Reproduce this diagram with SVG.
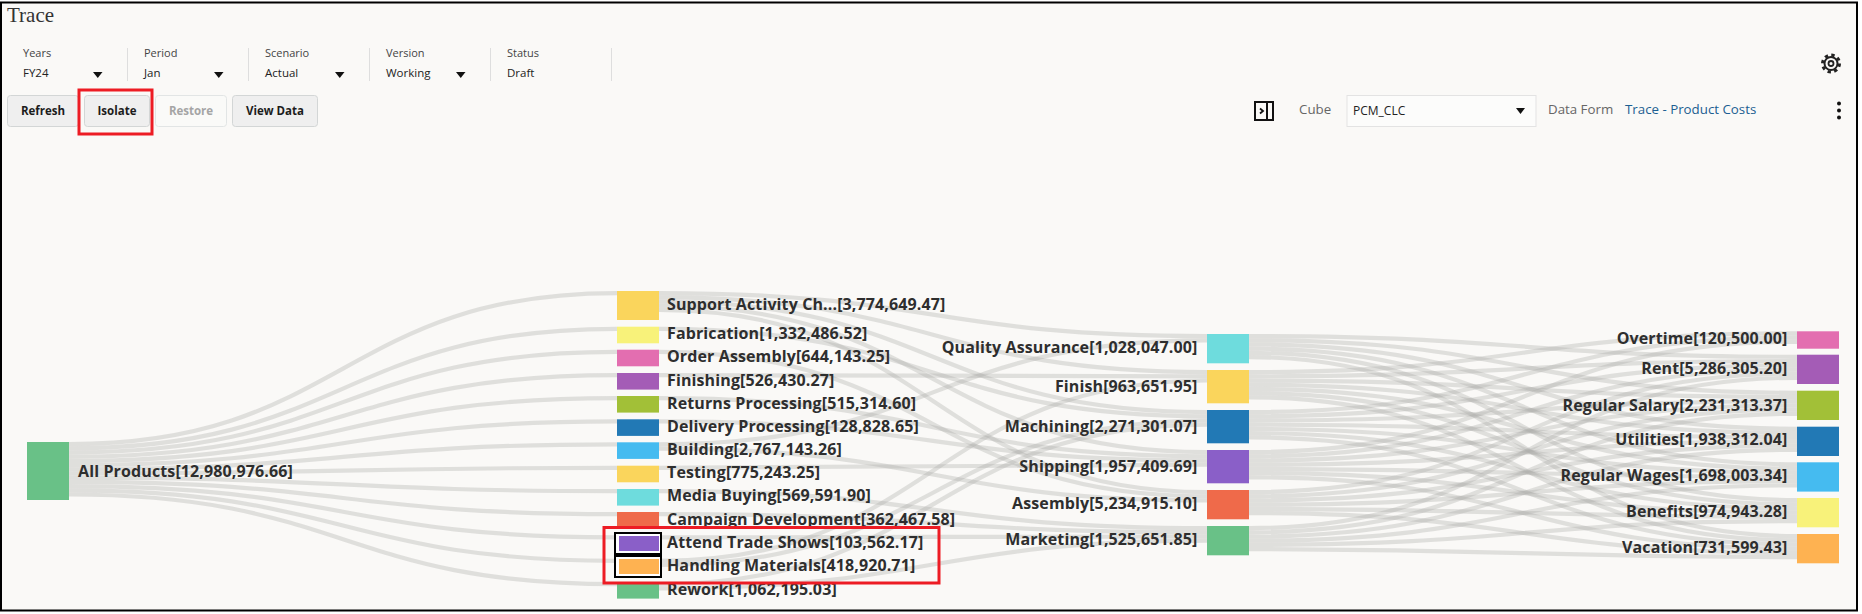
<svg xmlns="http://www.w3.org/2000/svg" width="1862" height="614" viewBox="0 0 1862 614">
<style>
text{font-family:"Open Sans","Noto Sans","Liberation Sans",sans-serif}
.l{fill:none;stroke:#aaaaa8;stroke-width:4.2;opacity:.33}
.n{font-size:16px;font-weight:700;fill:#2e2e2e;letter-spacing:.12px}
.e{text-anchor:end}
.f{font-size:11px;fill:#444}
.v{font-size:11.5px;fill:#222}
.b{font-size:11.5px;font-weight:700;fill:#1c1c1c;text-anchor:middle}
.btn{fill:#efefef;stroke:#d3d6d6;rx:3px}
.sep{stroke:#dedede;stroke-width:1}
.tri{fill:#111}
.red{fill:none;stroke:#ed1c24;stroke-width:3}
.sel{fill:#fff;stroke:#000;stroke-width:2}
.m{font-size:13.300px;fill:#666}
</style>
<rect width="1862" height="614" fill="#fff"/>
<rect x="1" y="2.500" width="1856" height="608" fill="#faf9f7" stroke="#000" stroke-width="2"/>
<g id="header">
<text x="7" y="22" font-size="21" fill="#333" style="font-family:'Liberation Serif',serif">Trace</text>
<text class="f" x="23" y="57">Years</text><text class="v" x="23" y="76.500">FY24</text><path class="tri" d="M93 72h9.500l-4.750 6z"/>
<text class="f" x="144" y="57">Period</text><text class="v" x="144" y="76.500">Jan</text><path class="tri" d="M214 72h9.500l-4.750 6z"/>
<text class="f" x="265" y="57">Scenario</text><text class="v" x="265" y="76.500">Actual</text><path class="tri" d="M335 72h9.500l-4.750 6z"/>
<text class="f" x="386" y="57">Version</text><text class="v" x="386" y="76.500">Working</text><path class="tri" d="M456 72h9.500l-4.750 6z"/>
<text class="f" x="507" y="57">Status</text><text class="v" x="507" y="76.500">Draft</text>
<path class="sep" d="M127.500 48V81M248.500 48V81M369.500 48V81M490.500 48V81M611.500 48V81"/>
<g id="gear" fill="none" stroke="#222"><circle cx="1831" cy="63.500" r="6.500" stroke-width="2"/><circle cx="1831" cy="63.500" r="8.500" stroke-width="3" stroke-dasharray="3.340 3.340"/><circle cx="1831" cy="63.500" r="2.500" stroke-width="1.800"/></g>
</g>
<g id="toolbar">
<rect class="btn" x="7.500" y="95.500" width="71" height="31"/><text class="b" x="43" y="114.500">Refresh</text>
<rect class="btn" x="84.500" y="95.500" width="65" height="31"/><text class="b" x="117" y="114.500">Isolate</text>
<rect class="btn" style="fill:#fafaf8;stroke:#e2e5e5" x="155.500" y="95.500" width="71" height="31"/><text class="b" style="fill:#a5a5a5" x="191" y="114.500">Restore</text>
<rect class="btn" x="232.500" y="95.500" width="85" height="31"/><text class="b" x="275" y="114.500">View Data</text>
<rect x="1255" y="102" width="18" height="18" fill="none" stroke="#111" stroke-width="2"/><path d="M1267 102V120" stroke="#111" stroke-width="2"/><path d="M1260 108.500l3 2.500-3 2.500" fill="none" stroke="#111" stroke-width="1.800"/>
<text class="m" x="1299" y="114">Cube</text>
<rect x="1347" y="95.500" width="189" height="31" fill="#fcfcfb" stroke="#e3e3e3"/>
<text class="v" x="1353" y="114.500" style="font-size:12px">PCM_CLC</text><path class="tri" d="M1516 108h9l-4.500 6z"/>
<text class="m" x="1548" y="114">Data Form</text>
<text class="m" x="1625" y="114" style="fill:#1c5f92">Trace - Product Costs</text>
<g id="menu" fill="#111"><circle cx="1839" cy="103.500" r="2"/><circle cx="1839" cy="110.500" r="2"/><circle cx="1839" cy="117.500" r="2"/></g>
</g>
<g id="connectors">
<path class="l" d="M69 444.100C343 444.100 343 293.100 617 293.100"/>
<path class="l" d="M69 448.300C343 448.300 343 328.800 617 328.800"/>
<path class="l" d="M69 452.500C343 452.500 343 351.800 617 351.800"/>
<path class="l" d="M69 456.700C343 456.700 343 375.100 617 375.100"/>
<path class="l" d="M69 460.900C343 460.900 343 398.100 617 398.100"/>
<path class="l" d="M69 465.100C343 465.100 343 421.400 617 421.400"/>
<path class="l" d="M69 469.300C343 469.300 343 444.400 617 444.400"/>
<path class="l" d="M69 473.500C343 473.500 343 467.800 617 467.800"/>
<path class="l" d="M69 477.700C343 477.700 343 491.100 617 491.100"/>
<path class="l" d="M69 481.900C343 481.900 343 514.100 617 514.100"/>
<path class="l" d="M69 486.100C343 486.100 343 537.400 617 537.400"/>
<path class="l" d="M69 490.300C343 490.300 343 560.800 617 560.800"/>
<path class="l" d="M69 494.500C343 494.500 343 584.100 617 584.100"/>
<path class="l" d="M659 293.100C933 293.100 933 336.100 1207 336.100"/>
<path class="l" d="M659 297.300C933 297.300 933 372.100 1207 372.100"/>
<path class="l" d="M659 301.500C933 301.500 933 412.100 1207 412.100"/>
<path class="l" d="M659 305.700C933 305.700 933 452.100 1207 452.100"/>
<path class="l" d="M659 309.900C933 309.900 933 492.100 1207 492.100"/>
<path class="l" d="M659 328.800C933 328.800 933 416.300 1207 416.300"/>
<path class="l" d="M659 351.800C933 351.800 933 496.300 1207 496.300"/>
<path class="l" d="M659 375.100C933 375.100 933 376.300 1207 376.300"/>
<path class="l" d="M659 398.100C933 398.100 933 456.300 1207 456.300"/>
<path class="l" d="M659 421.400C933 421.400 933 460.500 1207 460.500"/>
<path class="l" d="M659 444.400C933 444.400 933 340.300 1207 340.300"/>
<path class="l" d="M659 448.600C933 448.600 933 500.500 1207 500.500"/>
<path class="l" d="M659 467.800C933 467.800 933 464.700 1207 464.700"/>
<path class="l" d="M659 491.100C933 491.100 933 528.100 1207 528.100"/>
<path class="l" d="M659 514.100C933 514.100 933 532.300 1207 532.300"/>
<path class="l" d="M659 537.400C933 537.400 933 536.500 1207 536.500"/>
<path class="l" d="M659 560.800C933 560.800 933 380.500 1207 380.500"/>
<path class="l" d="M659 565C933 565 933 420.500 1207 420.500"/>
<path class="l" d="M659 584.100C933 584.100 933 424.700 1207 424.700"/>
<path class="l" d="M659 588.300C933 588.300 933 540.700 1207 540.700"/>
<path class="l" d="M1249 336.100C1523 336.100 1523 356.800 1797 356.800"/>
<path class="l" d="M1249 340.300C1523 340.300 1523 392.800 1797 392.800"/>
<path class="l" d="M1249 344.500C1523 344.500 1523 428.800 1797 428.800"/>
<path class="l" d="M1249 348.700C1523 348.700 1523 464.400 1797 464.400"/>
<path class="l" d="M1249 352.900C1523 352.900 1523 500.100 1797 500.100"/>
<path class="l" d="M1249 357.100C1523 357.100 1523 536.100 1797 536.100"/>
<path class="l" d="M1249 372.100C1523 372.100 1523 333.400 1797 333.400"/>
<path class="l" d="M1249 376.300C1523 376.300 1523 361 1797 361"/>
<path class="l" d="M1249 380.500C1523 380.500 1523 397 1797 397"/>
<path class="l" d="M1249 384.700C1523 384.700 1523 433 1797 433"/>
<path class="l" d="M1249 388.900C1523 388.900 1523 468.600 1797 468.600"/>
<path class="l" d="M1249 393.100C1523 393.100 1523 504.300 1797 504.300"/>
<path class="l" d="M1249 397.300C1523 397.300 1523 540.300 1797 540.300"/>
<path class="l" d="M1249 412.100C1523 412.100 1523 337.600 1797 337.600"/>
<path class="l" d="M1249 416.300C1523 416.300 1523 365.200 1797 365.200"/>
<path class="l" d="M1249 420.500C1523 420.500 1523 401.200 1797 401.200"/>
<path class="l" d="M1249 424.700C1523 424.700 1523 437.200 1797 437.200"/>
<path class="l" d="M1249 428.900C1523 428.900 1523 472.800 1797 472.800"/>
<path class="l" d="M1249 433.100C1523 433.100 1523 508.500 1797 508.500"/>
<path class="l" d="M1249 437.300C1523 437.300 1523 544.500 1797 544.500"/>
<path class="l" d="M1249 452.100C1523 452.100 1523 341.800 1797 341.800"/>
<path class="l" d="M1249 456.300C1523 456.300 1523 369.400 1797 369.400"/>
<path class="l" d="M1249 460.500C1523 460.500 1523 405.400 1797 405.400"/>
<path class="l" d="M1249 464.700C1523 464.700 1523 441.400 1797 441.400"/>
<path class="l" d="M1249 468.900C1523 468.900 1523 477 1797 477"/>
<path class="l" d="M1249 473.100C1523 473.100 1523 512.700 1797 512.700"/>
<path class="l" d="M1249 477.300C1523 477.300 1523 548.700 1797 548.700"/>
<path class="l" d="M1249 492.100C1523 492.100 1523 373.600 1797 373.600"/>
<path class="l" d="M1249 496.300C1523 496.300 1523 409.600 1797 409.600"/>
<path class="l" d="M1249 500.500C1523 500.500 1523 445.600 1797 445.600"/>
<path class="l" d="M1249 504.700C1523 504.700 1523 481.200 1797 481.200"/>
<path class="l" d="M1249 508.900C1523 508.900 1523 516.900 1797 516.900"/>
<path class="l" d="M1249 513.100C1523 513.100 1523 552.900 1797 552.900"/>
<path class="l" d="M1249 528.100C1523 528.100 1523 377.800 1797 377.800"/>
<path class="l" d="M1249 532.300C1523 532.300 1523 413.800 1797 413.800"/>
<path class="l" d="M1249 536.500C1523 536.500 1523 449.800 1797 449.800"/>
<path class="l" d="M1249 540.700C1523 540.700 1523 485.400 1797 485.400"/>
<path class="l" d="M1249 544.900C1523 544.900 1523 521.100 1797 521.100"/>
<path class="l" d="M1249 549.100C1523 549.100 1523 557.100 1797 557.100"/>
</g>
<g id="n-all-products"><rect x="27" y="442" width="42" height="58" fill="#69c187"/><text class="n" x="78" y="476.500">All Products[12,980,976.66]</text></g>
<g id="n-support"><rect x="617" y="291" width="42" height="29" fill="#fad55c"/><text class="n" x="667" y="310">Support Activity Ch...[3,774,649.47]</text></g>
<g id="n-fabrication"><rect x="617" y="326.700" width="42" height="16.600" fill="#f8f27a"/><text class="n" x="667" y="339">Fabrication[1,332,486.52]</text></g>
<g id="n-order-assembly"><rect x="617" y="349.700" width="42" height="16.600" fill="#e36eb0"/><text class="n" x="667" y="362.300">Order Assembly[644,143.25]</text></g>
<g id="n-finishing"><rect x="617" y="373" width="42" height="16.600" fill="#a45cb6"/><text class="n" x="667" y="386">Finishing[526,430.27]</text></g>
<g id="n-returns"><rect x="617" y="396" width="42" height="16.600" fill="#a2c037"/><text class="n" x="667" y="409.300">Returns Processing[515,314.60]</text></g>
<g id="n-delivery"><rect x="617" y="419.300" width="42" height="16.600" fill="#2279b5"/><text class="n" x="667" y="432">Delivery Processing[128,828.65]</text></g>
<g id="n-building"><rect x="617" y="442.300" width="42" height="16.600" fill="#45bbf0"/><text class="n" x="667" y="455">Building[2,767,143.26]</text></g>
<g id="n-testing"><rect x="617" y="465.700" width="42" height="16.600" fill="#fad55c"/><text class="n" x="667" y="478.300">Testing[775,243.25]</text></g>
<g id="n-media"><rect x="617" y="489" width="42" height="16.600" fill="#6edcdd"/><text class="n" x="667" y="501.300">Media Buying[569,591.90]</text></g>
<g id="n-campaign"><rect x="617" y="512" width="42" height="16.600" fill="#ef6a4a"/><text class="n" x="667" y="525">Campaign Development[362,467.58]</text></g>
<g id="n-attend"><rect class="sel" x="615" y="533" width="46" height="21"/><rect x="619" y="536" width="40" height="15" fill="#8a5fc8"/><text class="n" x="667" y="548.300">Attend Trade Shows[103,562.17]</text></g>
<g id="n-rework"><rect x="617" y="582" width="42" height="16.600" fill="#69c187"/><text class="n" x="667" y="594.500">Rework[1,062,195.03]</text></g>
<g id="n-handling"><rect class="sel" x="615" y="556" width="46" height="21" /><rect x="619" y="559" width="40" height="15" fill="#feb251"/><text class="n" x="667" y="571.200">Handling Materials[418,920.71]</text></g>
<g id="n-qa"><rect x="1207" y="334" width="42" height="29.300" fill="#6edcdd"/><text class="n e" x="1197.500" y="353.300">Quality Assurance[1,028,047.00]</text></g>
<g id="n-finish"><rect x="1207" y="370" width="42" height="33.300" fill="#fad55c"/><text class="n e" x="1197.500" y="391.700">Finish[963,651.95]</text></g>
<g id="n-machining"><rect x="1207" y="410" width="42" height="33.300" fill="#2279b5"/><text class="n e" x="1197.500" y="431.700">Machining[2,271,301.07]</text></g>
<g id="n-shipping"><rect x="1207" y="450" width="42" height="33.300" fill="#8a5fc8"/><text class="n e" x="1197.500" y="471.700">Shipping[1,957,409.69]</text></g>
<g id="n-assembly"><rect x="1207" y="490" width="42" height="29.300" fill="#ef6a4a"/><text class="n e" x="1197.500" y="509.300">Assembly[5,234,915.10]</text></g>
<g id="n-marketing"><rect x="1207" y="526" width="42" height="29.300" fill="#69c187"/><text class="n e" x="1197.500" y="545.300">Marketing[1,525,651.85]</text></g>
<g id="n-overtime"><rect x="1797" y="331.300" width="42" height="17.400" fill="#e36eb0"/><text class="n e" x="1787.500" y="344">Overtime[120,500.00]</text></g>
<g id="n-rent"><rect x="1797" y="354.700" width="42" height="29.300" fill="#a45cb6"/><text class="n e" x="1787.500" y="374">Rent[5,286,305.20]</text></g>
<g id="n-salary"><rect x="1797" y="390.700" width="42" height="29.300" fill="#a2c037"/><text class="n e" x="1787.500" y="410.700">Regular Salary[2,231,313.37]</text></g>
<g id="n-utilities"><rect x="1797" y="426.700" width="42" height="29.300" fill="#2279b5"/><text class="n e" x="1787.500" y="445">Utilities[1,938,312.04]</text></g>
<g id="n-wages"><rect x="1797" y="462.300" width="42" height="29.300" fill="#45bbf0"/><text class="n e" x="1787.500" y="481">Regular Wages[1,698,003.34]</text></g>
<g id="n-benefits"><rect x="1797" y="498" width="42" height="29.300" fill="#f8f27a"/><text class="n e" x="1787.500" y="517.300">Benefits[974,943.28]</text></g>
<g id="n-vacation"><rect x="1797" y="534" width="42" height="29.300" fill="#feb251"/><text class="n e" x="1787.500" y="553.300">Vacation[731,599.43]</text></g>
<g id="callouts">
<rect class="red" x="79" y="90" width="73" height="44"/>
<rect class="red" x="604" y="527.500" width="335" height="55.500"/>
</g>
</svg>
